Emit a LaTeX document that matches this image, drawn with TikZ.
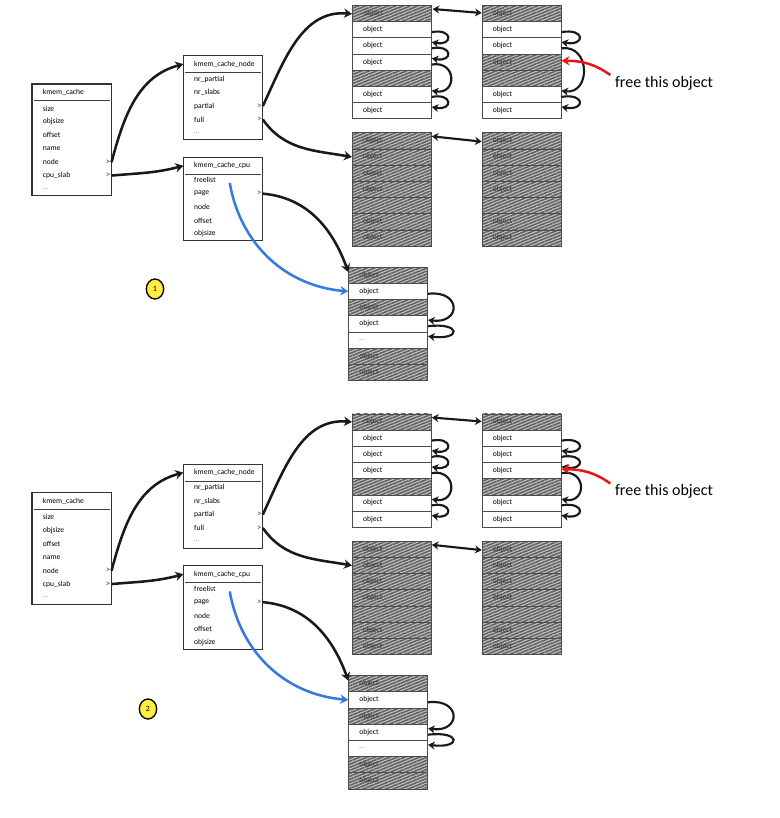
\documentclass[tikz,border=0pt]{standalone}
\usepackage{fontspec}
\setmainfont{Carlito}
\usepackage{tikz}
\usetikzlibrary{arrows.meta,positioning,fit,shapes.geometric,patterns.meta}
\definecolor{linkblue}{RGB}{52,122,226}
\definecolor{freered}{RGB}{232,24,24}
\definecolor{badgeyellow}{RGB}{255,238,64}

\begin{document}
\begin{tikzpicture}[
    x=0.75pt, y=-0.75pt,
    obj/.style={rectangle, draw=black!70, line width=0.6pt, anchor=north west, minimum width=59.25pt, minimum height=12.15pt, inner xsep=8pt, inner ysep=0pt, text width=43.25pt, font=\fontsize{5.7}{6}\selectfont},
    objw/.style={obj, fill=white},
    objh/.style={obj, preaction={fill=black!22}, pattern={Lines[angle=22,distance=2.1pt,line width=1.2pt]}, pattern color=black!62, text=black!80},
    head/.style={rectangle, anchor=north west, minimum width=59.25pt, minimum height=12.2pt, inner xsep=8pt, inner ysep=0pt, text width=43.25pt, font=\fontsize{5.7}{6}\selectfont},
    fld/.style={head, minimum height=10.05pt},
    fldp/.style={fld, label={[gt]east:{>}}},
    gt/.style={anchor=east, inner sep=0.8pt, font=\fontsize{6.5}{7}\selectfont, text=black!75},
    frame/.style={draw=black!80, line width=0.8pt, inner sep=0pt},
    sep/.style={draw=black!75, line width=0.6pt},
    link/.style={line width=1.9pt, black!90, -{Stealth[length=6pt,width=7pt]}},
    hop/.style={line width=1.6pt, black!90, -{Stealth[length=5pt,width=6pt]}},
    both/.style={line width=1.6pt, black!90, {Stealth[length=5pt,width=6pt]}-{Stealth[length=5pt,width=6pt]}},
    freeptr/.style={line width=1.9pt, freered, -{Stealth[length=6pt,width=7pt]}},
    note/.style={font=\fontsize{12}{14}\selectfont},
    badge/.style={ellipse, draw, line width=1pt, fill=badgeyellow, minimum width=13pt, minimum height=15pt, inner sep=0pt, font=\fontsize{6}{7}\selectfont}
]
\path[use as bounding box, fill=white] (0,0) rectangle (780,818);

\foreach \pn/\dy/\four/\nr/\bx/\by/\hops in {a/0/objh/1/155/289/{2/3/18,3/6/22,6/7/18}, b/408.5/objw/2/148/300.5/{2/3/18,3/4/18,4/6/19,6/7/18}} {
\begin{scope}[shift={(0,\dy)}, name prefix=\pn-]
    % structs
    \node[head] (kc) at (32,84) {kmem\_cache};
    \foreach \f/\m [count=\k] in {size/fld, objsize/fld, offset/fld, name/fld, node/fldp, cpu\_slab/fldp, {\color{black!45}\dots}/fld}
        \node[\m] (kc-\k) at (32,{101.6+13.4*(\k-1)}) {\f};
    \node[head] (kn) at (183.3,55.7) {kmem\_cache\_node};
    \foreach \f/\m [count=\k] in {nr\_partial/fld, nr\_slabs/fld, partial/fldp, full/fldp, {\color{black!45}\dots}/fld}
        \node[\m] (kn-\k) at (183.3,{72.3+13.4*(\k-1)}) {\f};
    \node[head] (kp) at (183.3,157.3) {kmem\_cache\_cpu};
    \foreach \f/\m [count=\k] in {freelist/fld, page/fldp, node/fld, offset/fld, objsize/fld}
        \node[\m] (kp-\k) at (183.3,{173.3+13.4*(\k-1)}) {\f};
    \foreach \st/\lst in {kc/kc-7, kn/kn-5, kp/kp-5} {
        \node[frame, fit=(\st)(\lst)] (\st-box) {};
        \draw[sep] ([xshift=1.5pt]\st.south west) -- ([xshift=-1.5pt]\st.south east);
    }

    % slabs
    \foreach \s/\t [count=\k] in {objh/object, objw/object, objw/object, objw/object, objh/{}, objw/object, objw/object}
        \node[\s] (tl-\k) at (352,{5+16.2*(\k-1)}) {\t};
    \foreach \s/\t [count=\k] in {objh/object, objw/object, objw/object, \four/object, objh/{}, objw/object, objw/object}
        \node[\s] (tr-\k) at (481.7,{5+16.2*(\k-1)}) {\t};
    \foreach \sl/\x in {ml/352, mr/481.7}
        \foreach \t [count=\k] in {object, object, object, object, {}, object, object}
            \node[objh] (\sl-\k) at (\x,{132.3+16.2*(\k-1)}) {\t};
    \foreach \s/\t [count=\k] in {objh/object, objw/object, objh/object, objw/object, objw/{\color{black!45}\dots}, objh/object, objh/object}
        \node[\s] (bt-\k) at (348.3,{266.7+16.2*(\k-1)}) {\t};

    % free pointers inside the slabs
    \foreach \i/\j/\bg in {2/3/16, 3/4/16, 4/6/19, 6/7/16}
        \draw[hop] ([yshift=-1.8pt]tl-\i.east) .. controls +(\bg pt,3pt) and +(\bg pt,-3pt) .. ([yshift=2.8pt]tl-\j.east);
    \foreach \i/\j/\bg in \hops
        \draw[hop] ([yshift=-1.8pt]tr-\i.east) .. controls +(\bg pt,3pt) and +(\bg pt,-3pt) .. ([yshift=2.8pt]tr-\j.east);
    \foreach \i/\j/\bg in {2/4/25, 4/5/25}
        \draw[hop] ([yshift=-1.8pt]bt-\i.east) .. controls +(\bg pt,3pt) and +(\bg pt,-3pt) .. ([yshift=2.8pt]bt-\j.east);
    \draw[both] ([yshift=-3pt]tl-1.north east) -- ([yshift=-6pt]tr-1.north west);
    \draw[both] ([yshift=-3pt]ml-1.north east) -- ([yshift=-7pt]mr-1.north west);

    % struct pointers
    \draw[link] (kc-5.east) to[out=75,in=195] (kn.west);
    \draw[link] (kc-6.east) to[out=5,in=195] (kp.west);
    \draw[link] (kn-3.east) to[out=65,in=175] (tl-1.west);
    \draw[link] (kn-4.east) to[out=-55,in=170] (ml-2.west);
    \draw[link] (kp-2.east) to[out=-5,in=110] ([yshift=-4pt]bt-1.north west);
    \draw[link, linkblue] ([xshift=5pt,yshift=-2pt]kp-1.center) to[out=-80,in=175] (bt-2.west);

    \node[note] (free) at (664,83) {free this object};
    \draw[freeptr] ([yshift=6pt]free.west) to[out=145,in=0] ([yshift=1pt]tr-4.east);
    \node[badge] (tag) at (\bx,\by) {\nr};
\end{scope}
}
\end{tikzpicture}
\end{document}
